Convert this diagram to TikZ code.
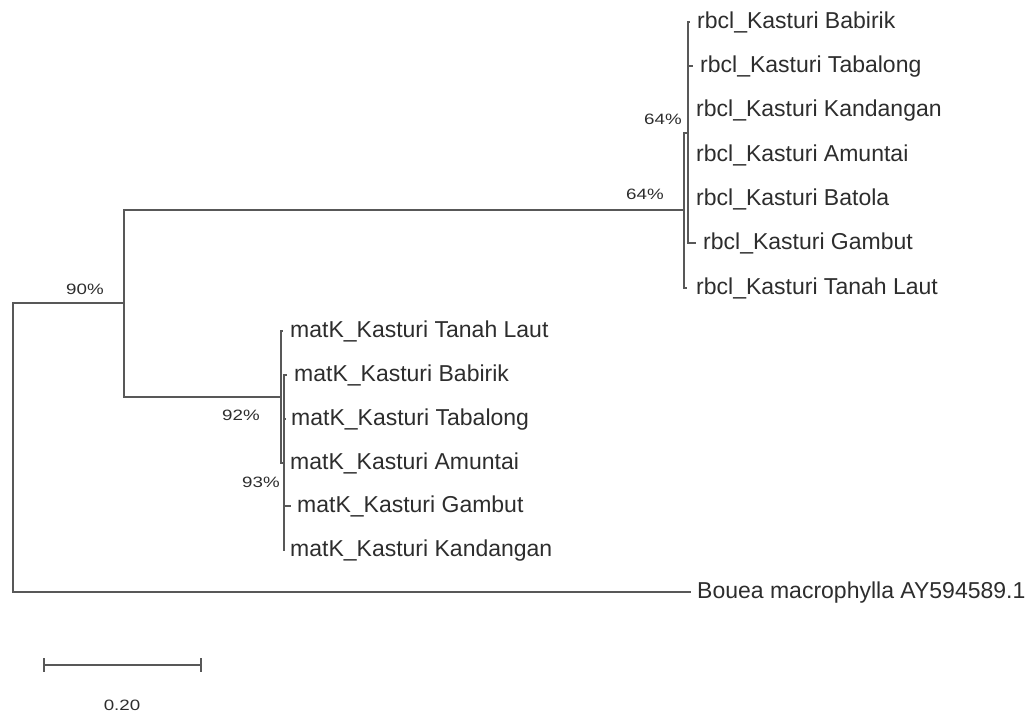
\documentclass[tikz,border=0pt]{standalone}
\usepackage{fontspec}
\usepackage{graphicx}
\setmainfont{Liberation Sans}
\definecolor{branch}{RGB}{88,88,88}
\definecolor{txt}{RGB}{45,45,45}
\newcommand{\bsfont}[1]{\scalebox{1.25}[1]{#1}}
\begin{document}
\begin{tikzpicture}[x=1pt,y=-1pt,
  br/.style={draw=branch,line width=2pt,line cap=rect},
  leaf/.style={anchor=west,inner sep=0pt,text=txt,font=\fontsize{23}{26}\selectfont,text height=16pt,text depth=3pt},
  boot/.style={inner sep=0pt,text=txt,font=\fontsize{15}{17}\selectfont}]
\useasboundingbox (0,0) rectangle (1033,713);
% internal nodes
\coordinate (R) at (13,448);
\coordinate (A) at (124,303);
\coordinate (B) at (684,210);
\coordinate (C) at (688,133);
\coordinate (D) at (281,397);
\coordinate (E) at (284,463);
% rbcl tips
\coordinate (r1) at (689,22);
\coordinate (r2) at (692,66);
\coordinate (r3) at (688,110);
\coordinate (r4) at (688,155);
\coordinate (r5) at (688,199);
\coordinate (r6) at (695,243);
\coordinate (r7) at (686,288);
% matK tips
\coordinate (m1) at (282,331);
\coordinate (m2) at (286,375);
\coordinate (m3) at (285,419);
\coordinate (m4) at (284,463);
\coordinate (m5) at (290,506);
\coordinate (m6) at (284,550);
% outgroup
\coordinate (o1) at (690,592);
% branches
\draw[br] (R) |- (A);
\draw[br] (R) |- (o1);
\draw[br] (A) |- (B);
\draw[br] (A) |- (D);
\draw[br] (B) |- (C);
\draw[br] (B) |- (r7);
\foreach \t in {r1,r2,r3,r4,r5,r6} \draw[br] (C) |- (\t);
\draw[br] (D) |- (m1);
\draw[br] (D) |- (E);
\foreach \t in {m2,m3,m4,m5,m6} \draw[br] (E) |- (\t);
% labels
\node[leaf,xshift=8pt] (lr1) at (r1) {rbcl\_Kasturi Babirik};
\node[leaf,xshift=8pt] (lr2) at (r2) {rbcl\_Kasturi Tabalong};
\node[leaf,xshift=8pt] (lr3) at (r3) {rbcl\_Kasturi Kandangan};
\node[leaf,xshift=8pt] (lr4) at (r4) {rbcl\_Kasturi Amuntai};
\node[leaf,xshift=8pt] (lr5) at (r5) {rbcl\_Kasturi Batola};
\node[leaf,xshift=8pt] (lr6) at (r6) {rbcl\_Kasturi Gambut};
\node[leaf,xshift=10pt] (lr7) at (r7) {rbcl\_Kasturi Tanah Laut};
\node[leaf,xshift=8pt] (lm1) at (m1) {matK\_Kasturi Tanah Laut};
\node[leaf,xshift=8pt] (lm2) at (m2) {matK\_Kasturi Babirik};
\node[leaf,xshift=6pt] (lm3) at (m3) {matK\_Kasturi Tabalong};
\node[leaf,xshift=6pt] (lm4) at (m4) {matK\_Kasturi Amuntai};
\node[leaf,xshift=7pt] (lm5) at (m5) {matK\_Kasturi Gambut};
\node[leaf,xshift=6pt] (lm6) at (m6) {matK\_Kasturi Kandangan};
\node[leaf,xshift=7pt] (lo1) at (o1) {Bouea macrophylla AY594589.1};
% bootstrap values
\node[boot] (bA) at (85,289) {\bsfont{90\%}};
\node[boot] (bC) at (663,119) {\bsfont{64\%}};
\node[boot] (bB) at (645,194) {\bsfont{64\%}};
\node[boot] (bD) at (241,415) {\bsfont{92\%}};
\node[boot] (bE) at (261,482) {\bsfont{93\%}};
% scale bar
\coordinate (s1) at (44,665);
\coordinate (s2) at (201,665);
\draw[br,line width=2pt] (s1) -- (s2);
\draw[br,line width=2pt] ([yshift=-6pt]s1) -- ([yshift=6pt]s1);
\draw[br,line width=2pt] ([yshift=-6pt]s2) -- ([yshift=6pt]s2);
\node[boot] (sc) at (122,705) {\bsfont{0.20}};
\end{tikzpicture}
\end{document}
